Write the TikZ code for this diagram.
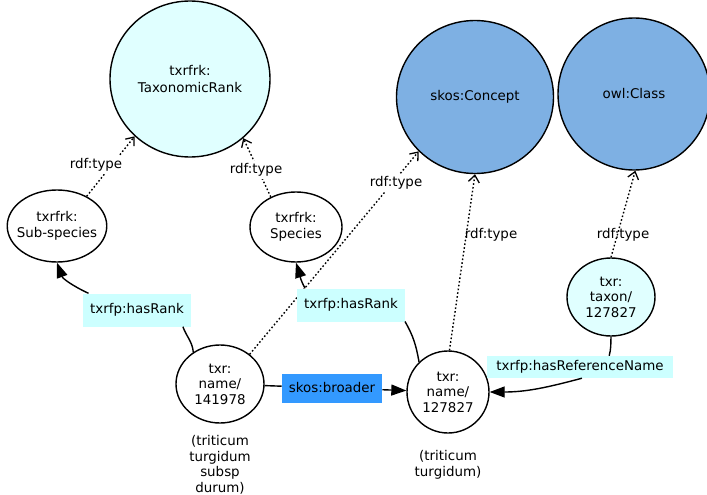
\documentclass[tikz,border=0pt]{standalone}
\usepackage{fontspec}
\setmainfont{DejaVu Sans}
\usepackage{tikz}
\usetikzlibrary{arrows.meta, shapes.geometric}
\definecolor{rankfill}{HTML}{E0FFFF}
\definecolor{classfill}{HTML}{7EB0E3}
\definecolor{propfill}{HTML}{CCFFFF}
\definecolor{broaderfill}{HTML}{3399FF}
\newcommand{\gvfont}{\fontsize{13.4}{15.5}\selectfont}
\tikzset{
  termnode/.style   = {ellipse, draw=black, fill=white, line width=1.4pt,
                       inner sep=0pt, align=center, font=\gvfont},
  classnode/.style  = {termnode, fill=classfill},
  propbox/.style    = {rectangle, fill=propfill, inner xsep=7pt, inner ysep=0pt,
                       minimum height=33pt, font=\gvfont},
  broaderbox/.style = {propbox, fill=broaderfill, minimum height=29pt},
  typelabel/.style  = {fill=white, inner sep=3pt, font=\gvfont},
  notelabel/.style  = {align=center, inner sep=0pt, font=\gvfont},
  reledge/.style    = {line width=1.4pt},
  relarrow/.style   = {reledge, -{Triangle[length=15pt, width=11pt]}},
  typearrow/.style  = {line width=1.4pt, dash pattern=on 1.6pt off 2.2pt,
                       -{Straight Barb[length=7pt, width=11pt, line width=1.3pt]}},
}

\begin{document}
\begin{tikzpicture}[x=1pt, y=-1pt]
    \useasboundingbox (0,0) rectangle (707,495);
    % classes
    \node[termnode, fill=rankfill, minimum width=160pt, minimum height=156pt,
          font=\fontsize{13.4}{17}\selectfont] (rank) at (190,79) {txrfrk:\\TaxonomicRank};
    \node[classnode, minimum width=157pt, minimum height=153pt] (concept) at (475,97) {skos:Concept};
    \node[classnode, minimum width=152pt, minimum height=152pt] (owlclass) at (634,94) {owl:Class};
    % resources
    \node[termnode, inner xsep=-5pt, minimum width=90pt, minimum height=72pt] (subsp) at (57,226) {txrfrk:\\Sub-species};
    \node[termnode, minimum width=92pt, minimum height=70pt] (species) at (296,227) {txrfrk:\\Species};
    \node[termnode, minimum width=88pt, minimum height=78pt] (name1) at (220,384) {txr:\\name/\\141978};
    \node[termnode, minimum width=82pt, minimum height=82pt] (name2) at (448,392) {txr:\\name/\\127827};
    \node[termnode, fill=rankfill, minimum width=88pt, minimum height=78pt] (taxon) at (611,297) {txr:\\taxon/\\127827};
    \node[notelabel] (note1) at (220,465) {(triticum\\turgidum\\subsp\\durum)};
    \node[notelabel] (note2) at (448,465) {(triticum\\turgidum)};

    % rdf:type edges
    \draw[typearrow] (subsp.45) -- (rank.226);
    \draw[typearrow] (species.130) -- (rank.-48);
    \draw[typearrow] (name1.45) -- (concept.224);
    \draw[typearrow] (name2.88) -- (concept.-90);
    \draw[typearrow] (taxon.north) -- (owlclass.-89);
    \node[typelabel] (ty1) at (96,165) {rdf:type};
    \node[typelabel] (ty2) at (256,170) {rdf:type};
    \node[typelabel] (ty3) at (396,183) {rdf:type};
    \node[typelabel, fill=none] (ty4) at (491,235) {rdf:type};
    \node[typelabel, fill=none] (ty5) at (623,235) {rdf:type};

    % property labels
    \node[propbox] (rank1) at (137,310) {txrfp:hasRank};
    \node[propbox] (rank2) at (351,305) {txrfp:hasRank};
    \node[broaderbox] (broader) at (332,388) {skos:broader};
    \node[propbox, inner xsep=9pt, minimum height=22pt] (refname) at (580,367) {txrfp:hasReferenceName};

    % property edges
    \draw[reledge] (name1.130) to[out=95, in=-70] (rank1.-20);
    \draw[relarrow] (rank1.161) to[out=155, in=-70] (subsp.south);
    \draw[reledge] (name2.134) to[out=100, in=-60] (rank2.-17);
    \draw[relarrow] (rank2.160) to[out=120, in=-72] (species.south);
    \draw[reledge] (name1) -- (broader);
    \draw[relarrow] (broader) -- (name2);
    \draw[reledge] (taxon.south) to[out=-92, in=75] (refname.21);
    \draw[relarrow] (refname.-80) to[out=-165, in=0] (name2.east);
\end{tikzpicture}
\end{document}
